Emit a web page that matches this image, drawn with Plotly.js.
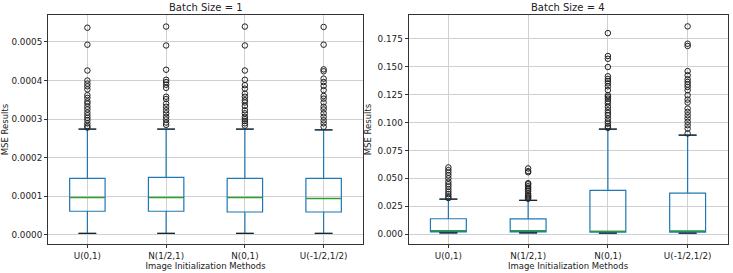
<!DOCTYPE html>
<html><head><meta charset="utf-8">
<script src="https://cdn.plot.ly/plotly-3.0.1.min.js"></script>
<style>html,body{margin:0;padding:0;background:#fff}#chart{width:733px;height:273px}</style>
</head><body><div id="chart"></div>
<script>
const categories = ['U(0,1)', 'N(1/2,1)', 'N(0,1)', 'U(-1/2,1/2)'];

// Batch Size = 1
const b1Lower  = [0.0000035, 0.0000035, 0.0000035, 0.0000035];
const b1Q1     = [0.000061, 0.000061, 0.000059, 0.000059];
const b1Median = [0.0000966, 0.0000966, 0.0000966, 0.000094];
const b1Q3     = [0.000146, 0.000149, 0.000146, 0.000146];
const b1Upper  = [0.000274, 0.000274, 0.000274, 0.000272];
const b1Outliers = [
  [0.000537, 0.000493, 0.000426, 0.000400, 0.000392, 0.000385, 0.000377, 0.000362, 0.000355, 0.000346, 0.000340, 0.000332, 0.000325, 0.000317, 0.000310, 0.000303, 0.000297, 0.000289, 0.000282, 0.000278],
  [0.000540, 0.000491, 0.000428, 0.000402, 0.000396, 0.000389, 0.000381, 0.000358, 0.000352, 0.000340, 0.000332, 0.000323, 0.000315, 0.000306, 0.000299, 0.000291, 0.000285],
  [0.000540, 0.000491, 0.000426, 0.000402, 0.000388, 0.000379, 0.000366, 0.000358, 0.000349, 0.000343, 0.000334, 0.000323, 0.000315, 0.000306, 0.000300, 0.000295, 0.000289, 0.000283],
  [0.000539, 0.000493, 0.000429, 0.000424, 0.000405, 0.000396, 0.000386, 0.000375, 0.000360, 0.000353, 0.000343, 0.000332, 0.000325, 0.000315, 0.000306, 0.000297, 0.000289, 0.000280]
];

// Batch Size = 4
const b4Lower  = [0.0012, 0.0012, 0.0009, 0.0009];
const b4Q1     = [0.0022, 0.0022, 0.0018, 0.0018];
const b4Median = [0.0033, 0.0032, 0.0026, 0.0028];
const b4Q3     = [0.0139, 0.0137, 0.0393, 0.0369];
const b4Upper  = [0.0315, 0.0303, 0.0940, 0.0887];
const b4Outliers = [
  [0.0598, 0.0574, 0.0551, 0.0527, 0.0501, 0.0471, 0.0448, 0.0427, 0.0403, 0.0380, 0.0359, 0.0339, 0.0324],
  [0.0589, 0.0565, 0.0555, 0.0457, 0.0448, 0.0430, 0.0415, 0.0400, 0.0385, 0.0365, 0.0350, 0.0340, 0.0330, 0.0318],
  [0.1800, 0.1595, 0.1570, 0.1497, 0.1414, 0.1390, 0.1370, 0.1350, 0.1324, 0.1290, 0.1244, 0.1230, 0.1214, 0.1190, 0.1170, 0.1140, 0.1110, 0.1086, 0.1065, 0.1036, 0.1010, 0.0990, 0.0967, 0.0952],
  [0.1860, 0.1705, 0.1685, 0.1460, 0.1423, 0.1387, 0.1363, 0.1340, 0.1318, 0.1289, 0.1244, 0.1205, 0.1179, 0.1125, 0.1095, 0.1065, 0.1036, 0.1006, 0.0976, 0.0946, 0.0902]
];

const titles = ['Batch Size = 1', 'Batch Size = 4'];
const xLabel = 'Image Initialization Methods';
const yLabel = 'MSE Results';

const BOX_W = 0.45;
const pos = categories.map((c, i) => i + 1);
const BLUE = '#1f77b4', GREEN = '#2ca02c', DARK = '#222';

function panel(lower, q1, med, q3, upper, outliers, xa, ya) {
  const tr = [];
  tr.push({
    type: 'box', x: pos, q1: q1, median: med, q3: q3,
    lowerfence: lower, upperfence: upper,
    width: BOX_W, whiskerwidth: 0.5, boxpoints: false,
    line: {color: BLUE, width: 1.2}, fillcolor: 'rgba(0,0,0,0)',
    xaxis: xa, yaxis: ya, showlegend: false, hoverinfo: 'skip'
  });
  // medians
  const mx = [], my = [];
  pos.forEach((p, i) => { mx.push(p - BOX_W / 2 + 0.01, p + BOX_W / 2 - 0.01, null); my.push(med[i], med[i], null); });
  tr.push({type: 'scatter', mode: 'lines', x: mx, y: my, line: {color: GREEN, width: 1.3},
    xaxis: xa, yaxis: ya, showlegend: false, hoverinfo: 'skip'});
  // caps
  const cx = [], cy = [];
  pos.forEach((p, i) => {
    [lower[i], upper[i]].forEach(v => { cx.push(p - BOX_W / 4, p + BOX_W / 4, null); cy.push(v, v, null); });
  });
  tr.push({type: 'scatter', mode: 'lines', x: cx, y: cy, line: {color: DARK, width: 1.2},
    xaxis: xa, yaxis: ya, showlegend: false, hoverinfo: 'skip'});
  // outliers
  const ox = [], oy = [];
  outliers.forEach((arr, i) => arr.forEach(v => { ox.push(pos[i]); oy.push(v); }));
  tr.push({type: 'scatter', mode: 'markers', x: ox, y: oy,
    marker: {symbol: 'circle-open', size: 5.5, color: DARK, line: {width: 1}},
    xaxis: xa, yaxis: ya, showlegend: false, hoverinfo: 'skip'});
  return tr;
}

const data = [].concat(
  panel(b1Lower, b1Q1, b1Median, b1Q3, b1Upper, b1Outliers, 'x', 'y'),
  panel(b4Lower, b4Q1, b4Median, b4Q3, b4Upper, b4Outliers, 'x2', 'y2')
);

const W = 733, H = 273;
const font = {family: 'DejaVu Sans, sans-serif', size: 8.5, color: DARK};
const tickFont = {family: 'DejaVu Sans, sans-serif', size: 8.8, color: DARK};
const yDom = [1 - 244 / H, 1 - 15 / H];

function xAxis(d0, d1, anchor) {
  return {
    domain: [d0 / W, d1 / W], anchor: anchor, range: [0.5, 4.5],
    tickvals: pos, ticktext: categories, tickfont: tickFont,
    showgrid: true, gridcolor: '#d0d0d0', gridwidth: 1, zeroline: false,
    showline: true, mirror: true, linecolor: '#333', linewidth: 1,
    ticks: 'outside', ticklen: 3, tickcolor: '#333',
    title: {text: xLabel, font: font, standoff: 1}
  };
}
function yAxis(range, dtick, fmt, anchor) {
  return {
    domain: yDom, anchor: anchor, range: range, dtick: dtick, tick0: 0, tickformat: fmt,
    tickfont: tickFont, showgrid: true, gridcolor: '#d0d0d0', gridwidth: 1, zeroline: false,
    showline: true, mirror: true, linecolor: '#333', linewidth: 1,
    ticks: 'outside', ticklen: 3, tickcolor: '#333',
    title: {text: yLabel, font: font, standoff: 4}
  };
}

const titleFont = {family: font.family, size: 10, color: DARK};
const layout = {
  width: W, height: H, margin: {l: 0, r: 0, t: 0, b: 0},
  paper_bgcolor: '#fff', plot_bgcolor: '#fff', font: font,
  showlegend: false,
  xaxis: xAxis(48, 363, 'y'),
  yaxis: yAxis([-0.000024, 0.00057], 0.0001, '.4f', 'x'),
  xaxis2: xAxis(408.5, 727.5, 'y2'),
  yaxis2: yAxis([-0.0087, 0.1962], 0.025, '.3f', 'x2'),
  annotations: [
    {text: titles[0], xref: 'paper', yref: 'paper', x: (48 + 363) / 2 / W, y: 1 - 7 / H,
      xanchor: 'center', yanchor: 'middle', showarrow: false, font: titleFont},
    {text: titles[1], xref: 'paper', yref: 'paper', x: (408.5 + 727.5) / 2 / W, y: 1 - 7 / H,
      xanchor: 'center', yanchor: 'middle', showarrow: false, font: titleFont}
  ]
};

Plotly.newPlot('chart', data, layout, {staticPlot: true, displayModeBar: false});
</script></body></html>
